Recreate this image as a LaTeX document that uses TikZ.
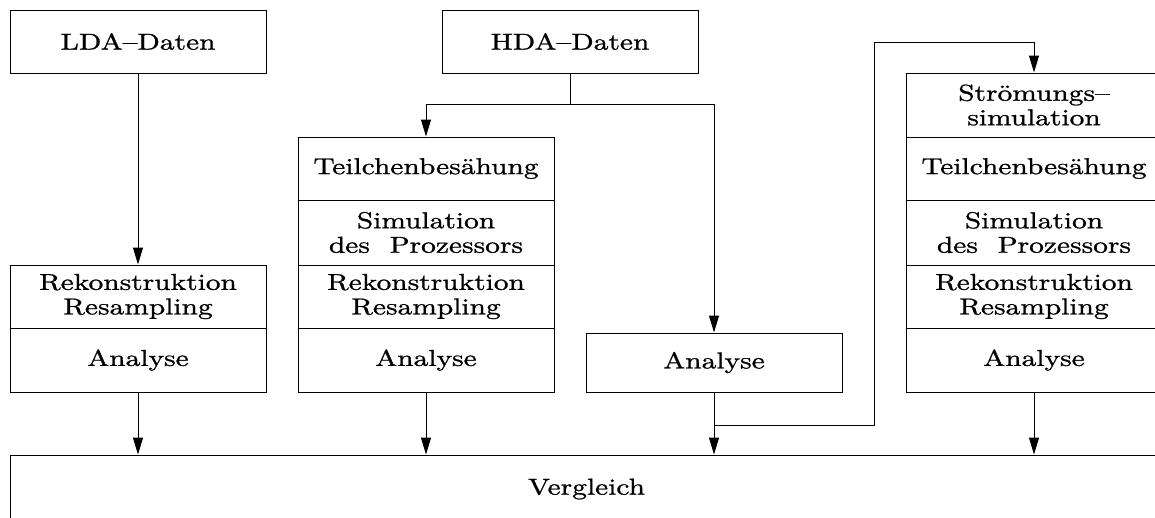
\documentclass[tikz,border=0pt]{standalone}
\usepackage{fontspec}
\setmainfont{lmroman10-regular}[Extension=.otf,FakeStretch=1.28,FakeBold=1]
\usetikzlibrary{arrows.meta}
\begin{document}
\begin{tikzpicture}[x=1pt,y=-1pt,line width=1pt,
  cell/.style={draw,rectangle,inner sep=0pt,minimum width=256pt,align=center,
    font=\fontsize{23}{24.5}\selectfont},
  c63/.style={cell,minimum height=63pt},
  c64/.style={cell,minimum height=64pt},
  c65/.style={cell,minimum height=65pt},
  arr/.style={-{Triangle[length=17pt,width=10pt]}}]
\useasboundingbox (0,0) rectangle (1155,517);
% top boxes
\node[c63] (lda) at (138,41.5) {LDA\textendash Daten};
\node[c63] (hda) at (570,41.5) {HDA\textendash Daten};
% LDA column
\node[c63] (lrek) at (138,296.5) {Rekonstruktion\\Resampling};
\node[c64] (lana) at (138,360) {Analyse};
% middle column
\node[c63] (mtb) at (426,168.5) {Teilchenbesähung};
\node[c65] (msim) at (426,232.5) {Simulation\\des\ \ Prozessors};
\node[c63] (mrek) at (426,296.5) {Rekonstruktion\\Resampling};
\node[c64] (mana) at (426,360) {Analyse};
% third column
\node[cell,minimum height=59pt] (ana3) at (714,362.5) {Analyse};
% right column
\node[c64] (rstr) at (1034,105) {Strömungs\textendash\\simulation};
\node[c63] (rtb) at (1034,168.5) {Teilchenbesähung};
\node[c65] (rsim) at (1034,232.5) {Simulation\\des\ \ Prozessors};
\node[c63] (rrek) at (1034,296.5) {Rekonstruktion\\Resampling};
\node[c64] (rana) at (1034,360) {Analyse};
% comparison
\node[cell,minimum width=1153pt,minimum height=68pt] (verg) at (586.5,489) {Vergleich};
% connectors
\draw[arr] (lda.south) -- (lrek.north);
\draw (hda.south) -- ++(0,31) coordinate (hs);
\draw[arr] (hs) -| (mtb.north);
\draw[arr] (hs) -| (ana3.north);
\draw[arr] (lana.south) -- (lana.south |- verg.north);
\draw[arr] (mana.south) -- (mana.south |- verg.north);
\draw[arr] (ana3.south) -- (ana3.south |- verg.north);
\draw[arr] (rana.south) -- (rana.south |- verg.north);
\coordinate (lp) at (714,425);
\coordinate (lpa) at (874,425);
\coordinate (lpb) at (874,42);
\draw[arr] (lp) -- (lpa) -- (lpb) -| (rstr.north);
\end{tikzpicture}
\end{document}
